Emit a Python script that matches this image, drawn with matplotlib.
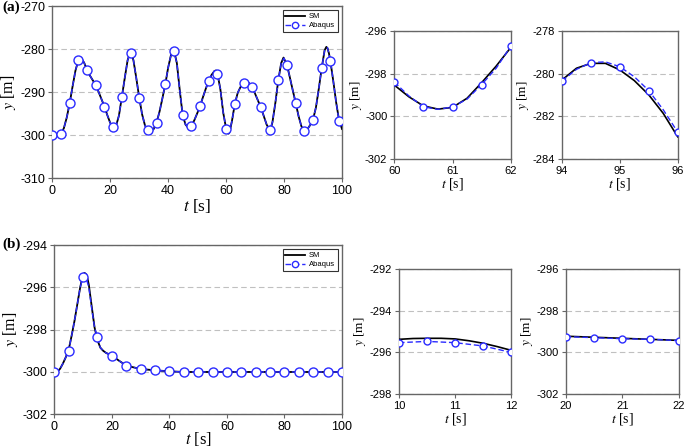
import matplotlib
matplotlib.use("Agg")
import matplotlib.pyplot as plt

plt.rcParams['font.family'] = ['Liberation Sans', 'DejaVu Sans']
plt.rcParams['mathtext.fontset'] = 'stix'

# ---------------- data: panel (a) ----------------
sm_a_t = [0, 1, 2, 3, 4, 5, 6, 7, 8, 9, 9.8, 11, 12, 13, 14, 15, 16, 17, 18, 19, 20,
          21, 21.4, 22, 23, 24, 25, 26, 27, 28, 29, 30, 31, 32, 33, 33.8, 35, 36, 37,
          38, 39, 40, 41, 42, 43, 44, 45, 46, 46.8, 48, 49, 50, 51, 52, 53, 54, 55,
          56, 56.5, 57, 58, 59, 60, 60.5, 60.8, 61, 61.5, 62, 63, 64, 65, 66, 67, 68,
          69, 70, 71, 72, 73, 74, 75, 75.3, 76, 77, 78, 79, 79.8, 81, 82, 83, 84, 85,
          86, 87, 87.3, 88, 89, 90, 91, 92, 93, 94, 94.6, 95, 95.5, 96, 97, 98, 99, 100]
sm_a_y = [-300.0, -300.0, -299.95, -299.8, -298.4, -295.9, -292.6, -288.7, -285.0, -282.6,
          -282.0, -283.2, -284.9, -286.2, -287.3, -288.4, -290.0, -291.7, -293.4, -295.4,
          -297.2, -298.1, -298.3, -297.9, -295.5, -291.2, -286.8, -282.6, -280.5, -282.6,
          -286.8, -291.3, -295.2, -297.8, -298.9, -299.3, -298.6, -297.1, -294.6, -291.5,
          -288.2, -284.3, -281.3, -280.3, -283.3, -289.6, -295.4, -297.6, -298.2, -297.9,
          -296.6, -295.0, -293.3, -291.2, -289.2, -287.4, -286.0, -285.1, -285.0, -285.7,
          -289.3, -294.8, -298.5, -299.55, -299.68, -299.6, -298.4, -296.8, -292.8, -290.2,
          -288.8, -288.0, -287.5, -288.0, -288.9, -290.4, -292.0, -293.6, -295.6, -297.6,
          -298.8, -298.9, -297.0, -292.5, -287.3, -283.3, -282.0, -283.7, -286.6, -289.6,
          -292.5, -295.6, -298.0, -299.1, -299.2, -298.7, -297.7, -296.4, -293.6, -289.2,
          -284.4, -280.3, -279.5, -279.83, -281.0, -282.9, -287.5, -292.5, -296.6, -298.6]

ab_a_t = list(range(0, 101))
ab_a_y = [-300.0, -300.0, -299.95, -299.8, -298.4, -295.9, -292.6, -288.7, -285.0, -282.6,
          -282.0, -283.2, -284.9, -286.2, -287.3, -288.4, -290.0, -291.7, -293.4, -295.4,
          -297.2, -298.1, -297.9, -295.5, -291.2, -286.8, -282.6, -280.9, -282.6, -286.8,
          -291.3, -295.2, -297.8, -298.8, -299.2, -298.6, -297.1, -294.6, -291.5, -288.2,
          -284.3, -281.3, -280.5, -283.3, -289.6, -295.4, -297.6, -298.2, -297.9, -296.6,
          -295.0, -293.3, -291.2, -289.2, -287.4, -286.0, -285.1, -285.7, -289.3, -294.8,
          -298.5, -299.6, -296.8, -292.8, -290.2, -288.8, -288.0, -287.5, -288.0, -288.9,
          -290.4, -292.0, -293.6, -295.6, -297.6, -298.9, -297.0, -292.5, -287.3, -283.3,
          -282.1, -283.7, -286.6, -289.6, -292.5, -295.6, -298.0, -299.0, -298.7, -297.7,
          -296.4, -293.6, -289.2, -284.4, -280.3, -279.7, -282.7, -287.5, -292.5, -296.7,
          -298.6]

# inset (a1): 60-62 s
sm_a1_t = [60, 60.25, 60.5, 60.75, 61, 61.25, 61.5, 61.75, 62]
sm_a1_y = [-298.54, -299.09, -299.52, -299.67, -299.59, -299.16, -298.43, -297.65, -296.78]
ab_a1_t = [60, 60.25, 60.5, 60.75, 61, 61.25, 61.5, 61.75, 62]
ab_a1_y = [-298.4, -299.05, -299.56, -299.68, -299.57, -299.2, -298.52, -297.75, -296.72]

# inset (a2): 94-96 s
sm_a2_t = [94, 94.25, 94.5, 94.75, 95, 95.25, 95.5, 95.75, 96]
sm_a2_y = [-280.3, -279.75, -279.52, -279.52, -279.83, -280.33, -281.0, -281.87, -282.97]
ab_a2_t = [94, 94.25, 94.5, 94.75, 95, 95.25, 95.5, 95.75, 96]
ab_a2_y = [-280.35, -279.8, -279.49, -279.45, -279.68, -280.15, -280.8, -281.7, -282.75]

# ---------------- data: panel (b) ----------------
sm_b_t = [0, 1, 2, 3, 4, 5, 6, 7, 8, 9, 10, 10.5, 11, 11.5, 12, 13, 14, 15, 16, 17, 18,
          20, 22, 25, 30, 35, 40, 45, 50, 100]
sm_b_y = [-300.0, -300.0, -299.85, -299.6, -299.3, -298.95, -298.3, -297.6, -296.8, -296.0,
          -295.37, -295.32, -295.37, -295.56, -295.88, -296.9, -297.9, -298.5, -298.85,
          -299.0, -299.1, -299.22, -299.42, -299.7, -299.86, -299.92, -299.97, -300.0,
          -300.0, -300.0]
ab_b_t = [0, 1, 2, 3, 4, 5, 6, 7, 8, 9, 10, 11, 12, 13, 14, 15, 16, 17, 18, 19, 20,
          25, 30, 35, 40, 45, 50, 55, 60, 65, 70, 75, 80, 85, 90, 95, 100]
ab_b_y = [-300.0, -300.0, -299.85, -299.6, -299.3, -298.99, -298.3, -297.6, -296.8, -296.0,
          -295.51, -295.53, -296.0, -297.0, -297.9, -298.36, -298.85, -299.0, -299.1,
          -299.17, -299.24, -299.7, -299.86, -299.92, -299.97, -300.0, -300.0, -300.0,
          -300.0, -300.0, -300.0, -300.0, -300.0, -300.0, -300.0, -300.0, -300.0]

# inset (b1): 10-12 s
sm_b1_t = [10, 10.25, 10.5, 10.75, 11, 11.25, 11.5, 11.75, 12]
sm_b1_y = [-295.37, -295.33, -295.32, -295.32, -295.35, -295.44, -295.56, -295.72, -295.9]
ab_b1_t = [10, 10.5, 11, 11.5, 12]
ab_b1_y = [-295.53, -295.47, -295.53, -295.69, -296.0]

# inset (b2): 20-22 s
sm_b2_t = [20, 20.5, 21, 21.5, 22]
sm_b2_y = [-299.22, -299.27, -299.32, -299.37, -299.42]
ab_b2_t = [20, 20.5, 21, 21.5, 22]
ab_b2_y = [-299.24, -299.29, -299.34, -299.37, -299.43]

BLUE = '#2b2bff'
SPINE = '#666666'
GRID = '#c0c0c0'

W, H = 685, 448
fig = plt.figure(figsize=(W / 100, H / 100), dpi=100)


def px_axes(l, t, r, b):
    return fig.add_axes([l / W, 1 - b / H, (r - l) / W, (b - t) / H])


def style(ax, xlim, ylim, xticks, yticks, tick_fs, lab_fs_x, lab_fs_y, ypad, xpad):
    ax.set_xlim(*xlim)
    ax.set_ylim(*ylim)
    ax.set_xticks(xticks)
    ax.set_yticks(yticks)
    ax.set_xticklabels([str(v) for v in xticks])
    ax.set_yticklabels([str(v) for v in yticks])
    for s in ax.spines.values():
        s.set_color(SPINE)
        s.set_linewidth(1.0)
    ax.tick_params(direction='out', length=3, width=0.8, color=SPINE,
                   labelsize=tick_fs, pad=2)
    ax.yaxis.grid(True, color=GRID, linestyle=(0, (5, 3)), linewidth=0.8)
    ax.set_axisbelow(True)
    ax.set_xlabel(r'$t$ [s]', family='Liberation Serif', fontsize=lab_fs_x, labelpad=xpad)
    ax.set_ylabel(r'$y$ [m]', family='Liberation Serif', fontsize=lab_fs_y, labelpad=ypad)


def draw(ax, st, sy, at, ay, ms, mevery=None, lw=1.3):
    ax.plot(st, sy, color='black', lw=lw, label='SM', zorder=3)
    ax.plot(at, ay, color=BLUE, lw=1.0, ls=(0, (4, 2)), marker='o', ms=ms,
            mfc='white', mec=BLUE, mew=1.0, markevery=mevery, label='Abaqus', zorder=4)


def legend(ax):
    leg = ax.legend(loc='upper right', fontsize=5.5, frameon=True, fancybox=False,
                    edgecolor='black', borderpad=0.35, handlelength=2.6,
                    handletextpad=0.5, labelspacing=0.25, borderaxespad=0.55,
                    markerscale=0.7)
    leg.get_frame().set_linewidth(0.8)


# panel (a) main
ax = px_axes(52.3, 6, 342, 178)
draw(ax, sm_a_t, sm_a_y, ab_a_t, ab_a_y, 6.5, mevery=3)
style(ax, (0, 100), (-310, -270), [0, 20, 40, 60, 80, 100],
      [-310, -300, -290, -280, -270], 9, 12.5, 11.5, 2, 0)
legend(ax)

# inset a1
ax = px_axes(394.3, 31, 510.7, 158.7)
draw(ax, sm_a1_t, sm_a1_y, ab_a1_t, ab_a1_y, 5, mevery=2, lw=1.2)
style(ax, (60, 62), (-302, -296), [60, 61, 62], [-302, -300, -298, -296], 8, 10, 9.5, 1, 0)

# inset a2
ax = px_axes(562, 31, 677.7, 158.7)
draw(ax, sm_a2_t, sm_a2_y, ab_a2_t, ab_a2_y, 5, mevery=2, lw=1.2)
style(ax, (94, 96), (-284, -278), [94, 95, 96], [-284, -282, -280, -278], 8, 10, 9.5, 1, 0)

# panel (b) main
ax = px_axes(54.3, 245, 342, 414.3)
b_marks = [i for i, t in enumerate(ab_b_t) if t % 5 == 0]
draw(ax, sm_b_t, sm_b_y, ab_b_t, ab_b_y, 6.5, mevery=b_marks)
style(ax, (0, 100), (-302, -294), [0, 20, 40, 60, 80, 100],
      [-302, -300, -298, -296, -294], 9, 12, 11.5, 2, -2.5)
legend(ax)

# inset b1
ax = px_axes(399, 269.3, 511.3, 394)
draw(ax, sm_b1_t, sm_b1_y, ab_b1_t, ab_b1_y, 5, lw=1.2)
style(ax, (10, 12), (-298, -292), [10, 11, 12], [-298, -296, -294, -292], 8, 10, 9.5, 1, 0)

# inset b2
ax = px_axes(565.7, 269.3, 678.7, 394)
draw(ax, sm_b2_t, sm_b2_y, ab_b2_t, ab_b2_y, 5, lw=1.2)
style(ax, (20, 22), (-302, -296), [20, 21, 22], [-302, -300, -298, -296], 8, 10, 9.5, 1, 0)

fig.text(0.003, 1 - 7 / H, '(a)', family='Liberation Serif', weight='bold',
         fontsize=11, va='center', ha='left')
fig.text(0.003, 1 - 244 / H, '(b)', family='Liberation Serif', weight='bold',
         fontsize=11, va='center', ha='left')

fig.savefig('out.png', dpi=100)
